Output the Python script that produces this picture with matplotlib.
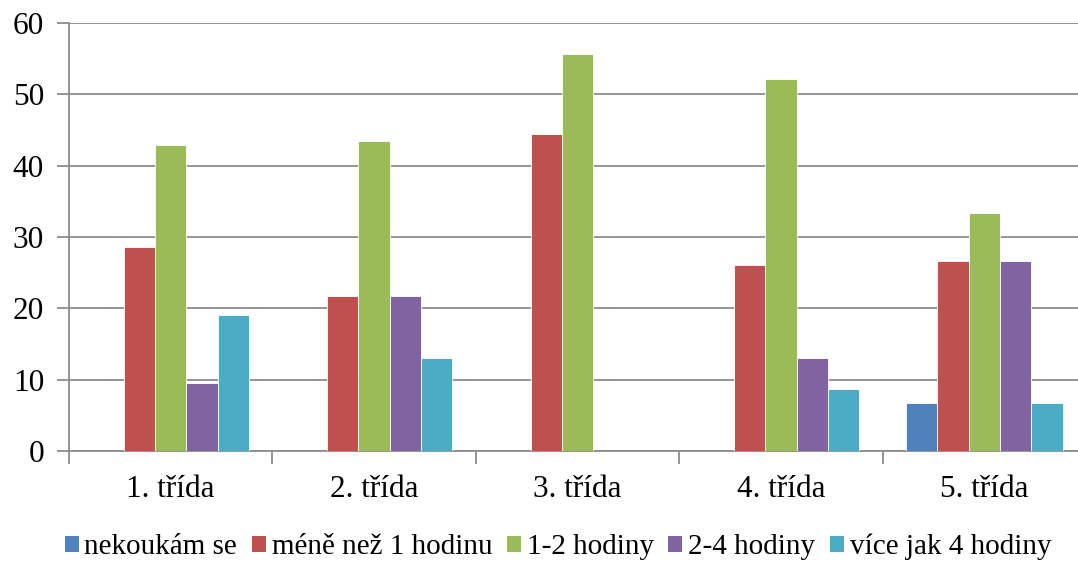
import numpy as np
import matplotlib.pyplot as plt
from matplotlib.patches import Patch

# ========== Data ==========
categories = ["1. třída", "2. třída", "3. třída", "4. třída", "5. třída"]
series_names = ["nekoukám se", "méně než 1 hodinu", "1-2 hodiny", "2-4 hodiny", "více jak 4 hodiny"]
nekoukam = [0, 0, 0, 0, 6.7]
mene_nez_1 = [28.6, 21.7, 44.4, 26.1, 26.7]
hod_1_2 = [42.9, 43.5, 55.6, 52.2, 33.3]
hod_2_4 = [9.5, 21.7, 0, 13.0, 26.7]
vice_4 = [19.0, 13.0, 0, 8.7, 6.7]
y_ticks = [0, 10, 20, 30, 40, 50, 60]

colors = ["#4F81BD", "#C0504D", "#9BBB59", "#8064A2", "#4BACC6"]

plt.rcParams['font.family'] = ['Liberation Serif', 'DejaVu Serif']

fig = plt.figure(figsize=(10.78, 5.62), dpi=100)
W, H = 1078, 562
# plot area runs slightly past the right edge of the image, like the reference
ax = fig.add_axes([69 / W, (H - 451) / H, (1086 - 69) / W, (451 - 23) / H])

all_series = [nekoukam, mene_nez_1, hod_1_2, hod_2_4, vice_4]
n = len(all_series)
bar_w = 1 / (n + 1.5)  # gap width 150%
x = np.arange(len(categories))
for i, vals in enumerate(all_series):
    offs = (i - (n - 1) / 2) * bar_w
    ax.bar(x + offs, vals, width=bar_w, color=colors[i], edgecolor="white", linewidth=0.6, zorder=3)

ax.set_xlim(-0.5, len(categories) - 0.5)
ax.set_ylim(0, 60)
ax.set_yticks(y_ticks)
ax.yaxis.grid(True, color="#8C8C8C", linewidth=1.3, zorder=0)
ax.tick_params(axis="y", length=9, width=1.3, color="#8C8C8C", labelsize=22.5, pad=9)

# category boundaries as ticks, labels at the centers
ax.set_xticks(np.arange(len(categories) + 1) - 0.5)
ax.set_xticklabels([])
ax.set_xticks(x, minor=True)
ax.set_xticklabels(categories, minor=True, fontsize=22.5)
ax.tick_params(axis="x", which="major", length=9, width=1.3, color="#8C8C8C")
ax.tick_params(axis="x", which="minor", length=0, pad=17)

for side in ["top", "right"]:
    ax.spines[side].set_visible(False)
for side in ["left", "bottom"]:
    ax.spines[side].set_color("#8C8C8C")
    ax.spines[side].set_linewidth(1.3)

handles = [Patch(facecolor=c, edgecolor="none") for c in colors]
fig.legend(handles, series_names, loc="center", bbox_to_anchor=(558 / W, (H - 547) / H), ncol=5,
           frameon=False, fontsize=21, handlelength=0.48, handleheight=0.48,
           handletextpad=0.2, columnspacing=0.5, borderpad=0.2)

fig.savefig("out.png", dpi=100)
